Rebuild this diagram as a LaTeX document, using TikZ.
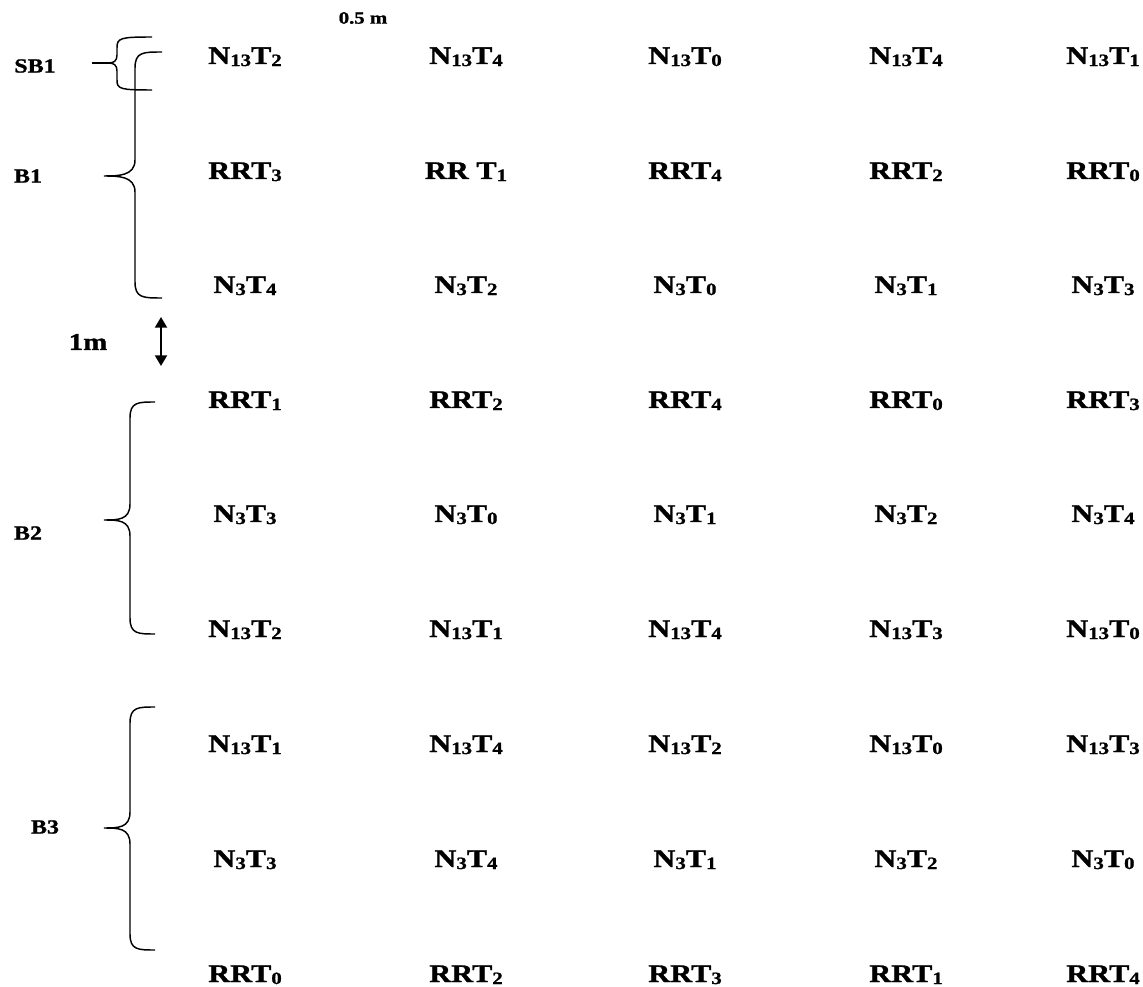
\documentclass[tikz,border=0pt]{standalone}
\usepackage{fontspec}
\setmainfont{Liberation Serif}[FakeStretch=1.2, BoldFeatures={FakeBold=1.2}]
\usepackage{tikz}
\usetikzlibrary{calc}
\usetikzlibrary{shapes,arrows.meta}

\newcommand{\subtxt}[1]{\raisebox{-0.08em}{\fontsize{13pt}{13pt}\selectfont #1}}
% left brace: end x, vertical x, tip x, top y, tip y, bottom y
\newcommand{\curlybrace}[6]{%
  \draw[bracket] (#1,#4) .. controls ($(#2,#4)+(8,0)$) and (#2,#4) .. ($(#2,#4)+(0,16)$)
    -- ($(#2,#5)+(0,-16)$) .. controls (#2,#5) and ($(#3,#5)+(14,0)$) .. (#3,#5)
    .. controls ($(#3,#5)+(14,0)$) and (#2,#5) .. ($(#2,#5)+(0,16)$)
    -- ($(#2,#6)+(0,-16)$) .. controls (#2,#6) and ($(#2,#6)+(8,0)$) .. (#1,#6);}

\begin{document}
\begin{tikzpicture}[x=0.75pt,y=-0.75pt,
    plotnode/.style={font=\bfseries\fontsize{19pt}{19pt}\selectfont, anchor=base, inner sep=0pt},
    blocknode/.style={font=\bfseries\fontsize{15pt}{15pt}\selectfont, inner sep=0pt},
    bracket/.style={line width=1.1pt}
    ]
  \useasboundingbox (0,0) rectangle (1143,987);
  % spacing labels
  \node[blocknode, font=\bfseries\fontsize{13pt}{13pt}\selectfont] (Plot Spacing) at (363,18) {0.5 m};
  \node[blocknode, font=\bfseries\fontsize{18pt}{18pt}\selectfont] (Row Spacing) at (88,342) {1m};
  \coordinate (Arrow Top) at (161,317);
  \coordinate (Arrow Bottom) at (161,366);
  \draw [{Triangle[length=8pt,width=9pt]}-{Triangle[length=8pt,width=9pt]}, line width=1.5pt] (Arrow Top) -- (Arrow Bottom);
  % block labels
  \node[blocknode] (SB1) at (35,66) {SB1};
  \node[blocknode] (B1) at (28,176) {B1};
  \node[blocknode] (B2) at (28,533) {B2};
  \node[blocknode] (B3) at (45,827) {B3};
  % braces
  \draw[bracket] (92,63) -- (108,63);
  \draw[bracket] (152,37) .. controls (120,37) and (117,38) .. (117,48) -- (117,55)
    .. controls (117,61) and (114,63) .. (108,63) .. controls (114,63) and (117,65) .. (117,71)
    -- (117,80) .. controls (117,89) and (120,90) .. (152,90);
  \curlybrace{162}{135}{104}{52}{176}{298}
  \curlybrace{155}{130}{104}{402}{520}{634}
  \curlybrace{155}{130}{104}{707}{828}{950}
  % B1
  \node[plotnode] (R1C1) at (245,64) {N\subtxt{13}T\subtxt{2}};
  \node[plotnode] (R1C2) at (466,64) {N\subtxt{13}T\subtxt{4}};
  \node[plotnode] (R1C3) at (685,64) {N\subtxt{13}T\subtxt{0}};
  \node[plotnode] (R1C4) at (906,64) {N\subtxt{13}T\subtxt{4}};
  \node[plotnode] (R1C5) at (1103,64) {N\subtxt{13}T\subtxt{1}};
  \node[plotnode] (R2C1) at (245,179) {RRT\subtxt{3}};
  \node[plotnode] (R2C2) at (466,179) {RR T\subtxt{1}};
  \node[plotnode] (R2C3) at (685,179) {RRT\subtxt{4}};
  \node[plotnode] (R2C4) at (906,179) {RRT\subtxt{2}};
  \node[plotnode] (R2C5) at (1103,179) {RRT\subtxt{0}};
  \node[plotnode] (R3C1) at (245,293) {N\subtxt{3}T\subtxt{4}};
  \node[plotnode] (R3C2) at (466,293) {N\subtxt{3}T\subtxt{2}};
  \node[plotnode] (R3C3) at (685,293) {N\subtxt{3}T\subtxt{0}};
  \node[plotnode] (R3C4) at (906,293) {N\subtxt{3}T\subtxt{1}};
  \node[plotnode] (R3C5) at (1103,293) {N\subtxt{3}T\subtxt{3}};
  % B2
  \node[plotnode] (R4C1) at (245,408) {RRT\subtxt{1}};
  \node[plotnode] (R4C2) at (466,408) {RRT\subtxt{2}};
  \node[plotnode] (R4C3) at (685,408) {RRT\subtxt{4}};
  \node[plotnode] (R4C4) at (906,408) {RRT\subtxt{0}};
  \node[plotnode] (R4C5) at (1103,408) {RRT\subtxt{3}};
  \node[plotnode] (R5C1) at (245,522) {N\subtxt{3}T\subtxt{3}};
  \node[plotnode] (R5C2) at (466,522) {N\subtxt{3}T\subtxt{0}};
  \node[plotnode] (R5C3) at (685,522) {N\subtxt{3}T\subtxt{1}};
  \node[plotnode] (R5C4) at (906,522) {N\subtxt{3}T\subtxt{2}};
  \node[plotnode] (R5C5) at (1103,522) {N\subtxt{3}T\subtxt{4}};
  \node[plotnode] (R6C1) at (245,637) {N\subtxt{13}T\subtxt{2}};
  \node[plotnode] (R6C2) at (466,637) {N\subtxt{13}T\subtxt{1}};
  \node[plotnode] (R6C3) at (685,637) {N\subtxt{13}T\subtxt{4}};
  \node[plotnode] (R6C4) at (906,637) {N\subtxt{13}T\subtxt{3}};
  \node[plotnode] (R6C5) at (1103,637) {N\subtxt{13}T\subtxt{0}};
  % B3
  \node[plotnode] (R7C1) at (245,752) {N\subtxt{13}T\subtxt{1}};
  \node[plotnode] (R7C2) at (466,752) {N\subtxt{13}T\subtxt{4}};
  \node[plotnode] (R7C3) at (685,752) {N\subtxt{13}T\subtxt{2}};
  \node[plotnode] (R7C4) at (906,752) {N\subtxt{13}T\subtxt{0}};
  \node[plotnode] (R7C5) at (1103,752) {N\subtxt{13}T\subtxt{3}};
  \node[plotnode] (R8C1) at (245,867) {N\subtxt{3}T\subtxt{3}};
  \node[plotnode] (R8C2) at (466,867) {N\subtxt{3}T\subtxt{4}};
  \node[plotnode] (R8C3) at (685,867) {N\subtxt{3}T\subtxt{1}};
  \node[plotnode] (R8C4) at (906,867) {N\subtxt{3}T\subtxt{2}};
  \node[plotnode] (R8C5) at (1103,867) {N\subtxt{3}T\subtxt{0}};
  \node[plotnode] (R9C1) at (245,982) {RRT\subtxt{0}};
  \node[plotnode] (R9C2) at (466,982) {RRT\subtxt{2}};
  \node[plotnode] (R9C3) at (685,982) {RRT\subtxt{3}};
  \node[plotnode] (R9C4) at (906,982) {RRT\subtxt{1}};
  \node[plotnode] (R9C5) at (1103,982) {RRT\subtxt{4}};
\end{tikzpicture}
\end{document}
